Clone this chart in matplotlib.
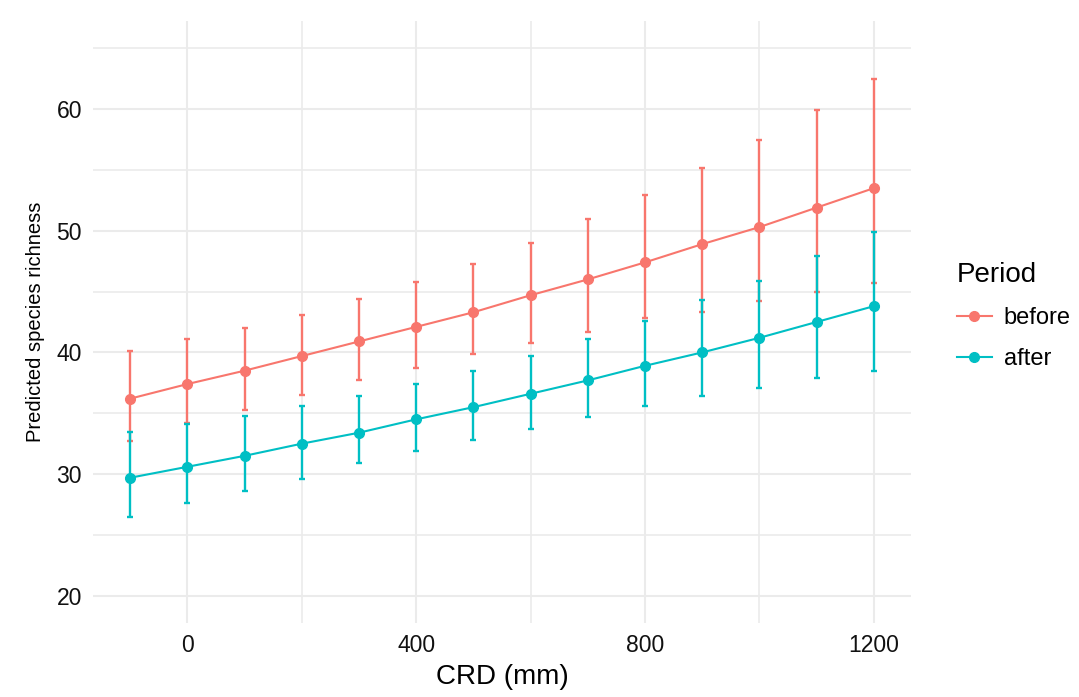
import matplotlib
matplotlib.use("Agg")
import matplotlib.pyplot as plt
from matplotlib.ticker import MultipleLocator

plt.rcParams['font.family'] = ['Liberation Sans', 'DejaVu Sans']

crd = [-100, 0, 100, 200, 300, 400, 500, 600, 700, 800, 900, 1000, 1100, 1200]

before_mid = [36.2, 37.4, 38.5, 39.7, 40.9, 42.1, 43.3, 44.7, 46.0, 47.4, 48.9, 50.3, 51.9, 53.5]
before_low = [32.7, 34.2, 35.3, 36.5, 37.7, 38.7, 39.9, 40.8, 41.7, 42.8, 43.3, 44.2, 45.0, 45.7]
before_high = [40.1, 41.1, 42.0, 43.1, 44.4, 45.8, 47.3, 49.0, 51.0, 52.9, 55.2, 57.5, 59.9, 62.5]

after_mid = [29.7, 30.6, 31.5, 32.5, 33.4, 34.5, 35.5, 36.6, 37.7, 38.9, 40.0, 41.2, 42.5, 43.8]
after_low = [26.5, 27.6, 28.6, 29.6, 30.9, 31.9, 32.8, 33.7, 34.7, 35.6, 36.4, 37.1, 37.9, 38.5]
after_high = [33.5, 34.1, 34.8, 35.6, 36.4, 37.4, 38.5, 39.7, 41.1, 42.6, 44.3, 45.9, 47.9, 49.9]

series = [
    ("before", before_mid, before_low, before_high, "#F8766D"),
    ("after", after_mid, after_low, after_high, "#00BFC4"),
]

fig = plt.figure(figsize=(10.79, 6.97), dpi=100)
ax = fig.add_axes([0.0862, 0.106, 0.758, 0.864])

for name, mid, low, high, col in series:
    yerr = [[m - l for m, l in zip(mid, low)], [h - m for h, m in zip(high, mid)]]
    ax.errorbar(crd, mid, yerr=yerr, color=col, ecolor=col, elinewidth=1.7,
                capsize=2.5, capthick=1.7, fmt="none", zorder=3)
    ax.plot(crd, mid, color=col, lw=1.5, marker="o", ms=7, label=name, zorder=4)

ax.set_xlim(-165, 1265)
ax.set_ylim(17.75, 67.25)
ax.xaxis.set_major_locator(MultipleLocator(400))
ax.xaxis.set_minor_locator(MultipleLocator(200))
ax.yaxis.set_major_locator(MultipleLocator(10))
ax.yaxis.set_minor_locator(MultipleLocator(5))
ax.yaxis.set_ticks([20, 30, 40, 50, 60])

ax.grid(True, which="major", color="#EBEBEB", lw=1.5)
ax.grid(True, which="minor", color="#EBEBEB", lw=1.2)
ax.set_axisbelow(True)
for s in ax.spines.values():
    s.set_visible(False)
ax.tick_params(which="both", length=0, labelsize=16.5, labelcolor="#111111", pad=8)

ax.set_xlabel("CRD (mm)", fontsize=20, labelpad=5)
ax.set_ylabel("Predicted species richness", fontsize=14.5, labelpad=8)

leg = ax.legend(title="Period", loc="center left", bbox_to_anchor=(1.03, 0.51),
                frameon=False, fontsize=17, title_fontsize=20, handlelength=1.5,
                handletextpad=0.5, labelspacing=0.8)
leg._legend_box.align = "left"

fig.savefig("out.png", dpi=100)
